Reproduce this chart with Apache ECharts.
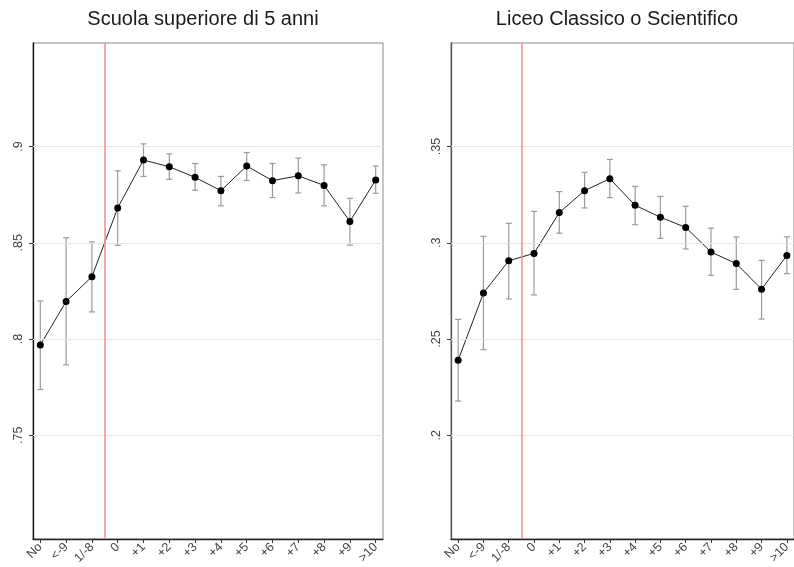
<!DOCTYPE html>
<html><head><meta charset="utf-8">
<script src="https://cdn.jsdelivr.net/npm/echarts@6/dist/echarts.min.js"></script>
<style>html,body{margin:0;padding:0;background:#fff}#c{width:794px;height:567px}</style>
</head><body><div id="c"></div>
<script>
const categories = ['No','<-9','1/-8','0','+1','+2','+3','+4','+5','+6','+7','+8','+9','>10'];
const titles = ['Scuola superiore di 5 anni','Liceo Classico o Scientifico'];
const leftEst = [.7969,.8195,.8324,.8681,.8930,.8895,.8840,.8771,.8899,.8823,.8848,.8798,.8611,.8826];
const leftLo  = [.7738,.7866,.8141,.8487,.8845,.8830,.8773,.8692,.8824,.8735,.8759,.8692,.8488,.8757];
const leftHi  = [.8198,.8526,.8505,.8874,.9014,.8962,.8912,.8845,.8969,.8912,.8940,.8905,.8731,.8899];
const rightEst = [.2390,.2739,.2907,.2945,.3157,.3271,.3333,.3195,.3133,.3080,.2952,.2892,.2759,.2934];
const rightLo  = [.2178,.2445,.2708,.2729,.3050,.3181,.3235,.3094,.3023,.2968,.2831,.2758,.2604,.2840];
const rightHi  = [.2602,.3034,.3101,.3163,.3266,.3366,.3433,.3293,.3241,.3190,.3076,.3030,.2909,.3031];
const leftTicks = [.75,.8,.85,.9];
const leftTickLabels = ['.75','.8','.85','.9'];
const rightTicks = [.2,.25,.3,.35];
const rightTickLabels = ['.2','.25','.3','.35'];
const cutoff = 2.5;
const leftRange = [0.6961, 0.9538];
const rightRange = [0.1461, 0.4038];

const idx = categories.map((c,i)=>i);
const FONT = 'Liberation Sans';

function xAxis(gi){
  return {
    type:'value', gridIndex:gi, min:-0.283, max:13.283,
    axisLine:{show:true, onZero:false, lineStyle:{color:'#222', width:1.3}},
    axisTick:{show:true, customValues:idx, length:4, lineStyle:{color:'#333'}},
    axisLabel:{show:true, customValues:idx, rotate:45, margin:6, fontSize:12.5, color:'#444', fontFamily:FONT,
      formatter:v=>categories[Math.round(v)]},
    splitLine:{show:false}
  };
}
function yAxis(gi, range, ticks, labels, lineColor){
  return {
    type:'value', gridIndex:gi, min:range[0], max:range[1],
    axisLine:{show:true, onZero:false, lineStyle:{color:lineColor, width:1.3}},
    axisTick:{show:true, customValues:ticks, length:4, lineStyle:{color:'#333'}},
    axisLabel:{show:true, customValues:ticks, rotate:90, margin:8, fontSize:12.5, color:'#444', fontFamily:FONT,
      formatter:v=>{const k=ticks.findIndex(t=>Math.abs(t-v)<1e-6);return k>=0?labels[k]:'';}},
    splitLine:{show:false}
  };
}
function errSeries(gi, lo, hi){
  return {
    type:'custom', xAxisIndex:gi, yAxisIndex:gi, z:3,
    data: idx.map(i=>[i, lo[i], hi[i]]),
    renderItem:(params, api)=>{
      const x = api.value(0);
      const a = api.coord([x, api.value(1)]);
      const b = api.coord([x, api.value(2)]);
      const w = 3;
      const st = {stroke:'#9a9a9a', lineWidth:1.2};
      return {type:'group', children:[
        {type:'line', shape:{x1:a[0],y1:a[1],x2:b[0],y2:b[1]}, style:st},
        {type:'line', shape:{x1:a[0]-w,y1:a[1],x2:a[0]+w,y2:a[1]}, style:st},
        {type:'line', shape:{x1:b[0]-w,y1:b[1],x2:b[0]+w,y2:b[1]}, style:st}
      ]};
    }
  };
}
function lineSeries(gi, est, ticks){
  return {
    type:'line', xAxisIndex:gi, yAxisIndex:gi, z:4,
    data: idx.map(i=>[i, est[i]]),
    symbol:'circle', symbolSize:7,
    itemStyle:{color:'#000'},
    lineStyle:{color:'#222', width:1},
    animation:false,
    markLine:{
      silent:true, symbol:'none', animation:false, label:{show:false},
      data:[
        ...ticks.map(t=>({yAxis:t, lineStyle:{color:'#e6e6e6', width:1, type:'solid'}})),
        {xAxis:cutoff, lineStyle:{color:'#f28b8b', width:1.5, type:'solid'}}
      ]
    }
  };
}

const chart = echarts.init(document.getElementById('c'), null, {renderer:'canvas'});
chart.setOption({
  animation:false,
  backgroundColor:'#fff',
  title:[
    {text:titles[0], left:198, top:4, textAlign:'center', textStyle:{fontSize:20, fontWeight:'normal', color:'#1a1a1a', fontFamily:FONT}},
    {text:titles[1], left:612, top:4, textAlign:'center', textStyle:{fontSize:20, fontWeight:'normal', color:'#1a1a1a', fontFamily:FONT}}
  ],
  grid:[
    {left:33, top:43, width:350, height:497, show:true, borderColor:'#8a8a8a', borderWidth:1, backgroundColor:'#fff'},
    {left:451, top:43, width:349, height:497, show:true, borderColor:'#8a8a8a', borderWidth:1, backgroundColor:'#fff'}
  ],
  xAxis:[xAxis(0), xAxis(1)],
  yAxis:[yAxis(0, leftRange, leftTicks, leftTickLabels, '#111'), yAxis(1, rightRange, rightTicks, rightTickLabels, '#555')],
  series:[
    errSeries(0, leftLo, leftHi), lineSeries(0, leftEst, leftTicks),
    errSeries(1, rightLo, rightHi), lineSeries(1, rightEst, rightTicks)
  ]
});
</script></body></html>
